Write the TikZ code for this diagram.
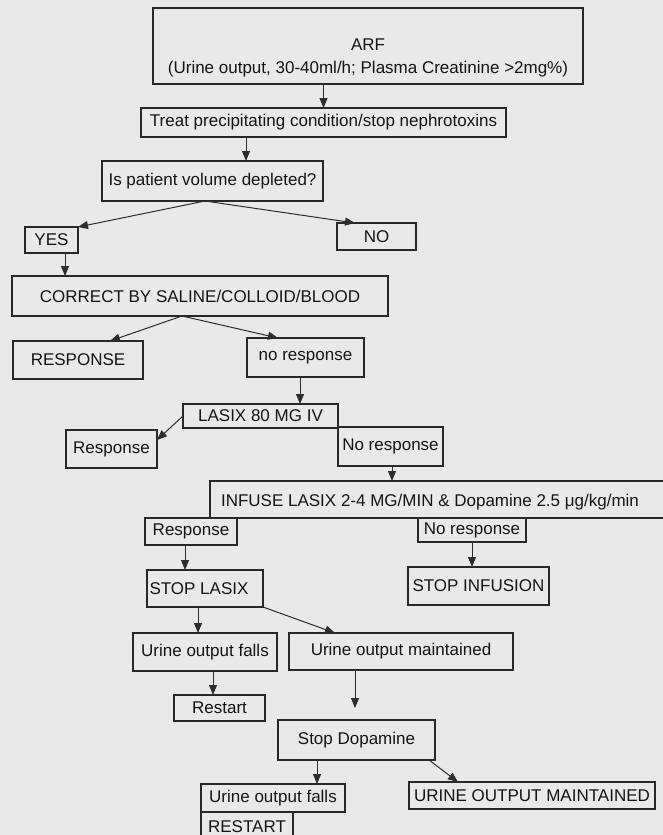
\documentclass[tikz,border=0pt]{standalone}
\usepackage{fontspec}
\setmainfont{Liberation Sans}
\usetikzlibrary{arrows.meta}
\definecolor{bgc}{RGB}{233,233,233}
\definecolor{boxc}{RGB}{40,40,40}
\definecolor{linec}{RGB}{45,45,45}
\definecolor{txtc}{RGB}{20,20,20}
\newcommand{\mybox}[6]{%
  \pgfmathsetmacro{\bxcx}{(#2+#4)/2}%
  \pgfmathsetmacro{\bxcy}{(#3+#5)/2}%
  \pgfmathsetmacro{\bxw}{#4-#2}%
  \pgfmathsetmacro{\bxh}{#5-#3}%
  \node[bx, minimum width=\bxw pt, minimum height=\bxh pt] (#1) at (\bxcx,\bxcy) {#6};}
\begin{document}
\begin{tikzpicture}[x=1pt,y=-1pt,
  font=\fontsize{17}{20}\selectfont,
  bx/.style={rectangle, draw=boxc, line width=1.2pt, inner sep=1pt, outer sep=0pt, text=txtc},
  txt/.style={inner sep=0pt, text=txtc},
  arr/.style={draw=linec, line width=1pt, -{Triangle[length=10pt,width=8pt]}}]
\useasboundingbox (0,0) rectangle (663,835);
\clip (0,0) rectangle (663,835);
\fill[bgc] (0,0) rectangle (663,835);

% boxes
\mybox{arf}{153}{8}{583}{84}{}
\node[txt, align=center] (arft) at (368,58) {ARF\\[3pt](Urine output, 30-40ml/h; Plasma Creatinine >2mg\%)};
\mybox{treat}{141}{108}{506}{137}{Treat precipitating condition/stop nephrotoxins}
\mybox{ispat}{102}{161}{323}{201}{Is patient volume depleted?}
\mybox{yes}{25}{227}{78}{253}{YES}
\mybox{no}{337}{223}{416}{250}{NO}
\mybox{corr}{12}{276}{388}{316}{CORRECT BY SALINE/COLLOID/BLOOD}
\mybox{resp}{13}{341}{143}{379}{RESPONSE}
\mybox{noresp}{247}{338}{364}{377}{no response}
\mybox{lasix}{183}{404}{338}{428}{LASIX 80 MG IV}
\mybox{respa}{66}{430}{157}{468}{Response}
\mybox{norespa}{338}{427}{443}{466}{No response}
\mybox{infuse}{210}{481}{672}{518}{}
\node[txt] (infuset) at (430,502) {INFUSE LASIX 2-4 MG/MIN \& Dopamine 2.5 μg/kg/min};
\mybox{respb}{145}{518}{237}{545}{Response}
\mybox{norespb}{418}{518}{526}{542}{No response}
\mybox{stoplasix}{147}{570}{263}{607}{}
\node[txt] (stoplasixt) at (199,589) {STOP LASIX};
\mybox{stopinf}{408}{567}{549}{605}{STOP INFUSION}
\mybox{fallsa}{133}{633}{277}{671}{Urine output falls}
\mybox{maint}{289}{633}{513}{670}{Urine output maintained}
\mybox{restarta}{174}{695}{265}{721}{Restart}
\mybox{stopdop}{278}{720}{435}{760}{Stop Dopamine}
\mybox{fallsb}{201}{784}{345}{812}{Urine output falls}
\mybox{restartb}{201}{812}{293}{842}{RESTART}
\mybox{uom}{409}{782}{655}{809}{URINE OUTPUT MAINTAINED}

% helper x positions
\coordinate (k1) at (246,0);
\coordinate (k2) at (205,0);
\coordinate (k4) at (355,0);
\coordinate (k5) at (65,0);
\coordinate (k6) at (182,0);
\coordinate (k7) at (110,0);
\coordinate (k8) at (278,0);
\coordinate (k9) at (300,0);
\coordinate (k10) at (0,440);
\coordinate (k11) at (392,0);
\coordinate (k12) at (185,0);
\coordinate (k13) at (472,0);
\coordinate (k14) at (198,0);
\coordinate (k15) at (335,0);
\coordinate (k16) at (213,0);
\coordinate (k17) at (355,0);
\coordinate (k18) at (317,0);
\coordinate (k19) at (429,0);
\coordinate (k20) at (458,0);

% connectors
\draw[arr] (arf.south -| treat.north) -- (treat.north);
\draw[arr] (treat.south -| k1) -- (ispat.north -| k1);
\draw[arr] (ispat.south -| k2) -- (yes.north east);
\draw[arr] (ispat.south -| k2) -- (no.north -| k4);
\draw[arr] (yes.south -| k5) -- (corr.north -| k5);
\draw[arr] (corr.south -| k6) -- (resp.north -| k7);
\draw[arr] (corr.south -| k6) -- (noresp.north -| k8);
\draw[arr] (noresp.south -| k9) -- (lasix.north -| k9);
\draw[arr] (lasix.west) -- (respa.east |- k10);
\draw[arr] (norespa.south -| k11) -- (infuse.north -| k11);
\draw[arr] (respb.south -| k12) -- (stoplasix.north -| k12);
\draw[arr] (norespb.south -| k13) -- (stopinf.north -| k13);
\draw[arr] (stoplasix.south -| k14) -- (fallsa.north -| k14);
\draw[arr] (stoplasix.south east) -- (maint.north -| k15);
\draw[arr] (fallsa.south -| k16) -- (restarta.north -| k16);
\draw[arr, shorten >=12pt] (maint.south -| k17) -- (stopdop.north -| k17);
\draw[arr] (stopdop.south -| k18) -- (fallsb.north -| k18);
\draw[arr] (stopdop.south -| k19) -- (uom.north -| k20);
\end{tikzpicture}
\end{document}
